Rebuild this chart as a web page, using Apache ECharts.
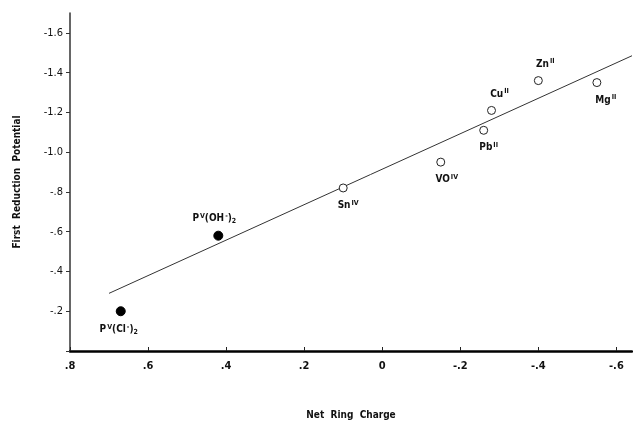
<!DOCTYPE html>
<html>
<head>
<meta charset="utf-8">
<script src="https://cdn.jsdelivr.net/npm/echarts@6/dist/echarts.min.js"></script>
<style>
  html, body { margin: 0; padding: 0; background: #fff; }
  #chart { width: 633px; height: 424px; }
</style>
</head>
<body>
<div id="chart"></div>
<script>
// complexes
const complexes = ['PCl', 'POH', 'Sn', 'VO', 'Pb', 'Cu', 'Zn', 'Mg']
const filled = [true, true, false, false, false, false, false, false]
const ringCharge = [0.67, 0.42, 0.10, -0.15, -0.26, -0.28, -0.40, -0.55]
const reductionPotential = [-0.20, -0.58, -0.82, -0.95, -1.11, -1.21, -1.36, -1.35]

// fitted line ends
const fitCharge = [0.70, -0.64]
const fitPotential = [-0.29, -1.485]

const xTicks = [0.8, 0.6, 0.4, 0.2, 0, -0.2, -0.4, -0.6]
const yTicks = [-0.2, -0.4, -0.6, -0.8, -1.0, -1.2, -1.4, -1.6]

const labelText = {
  PCl: 'P{sup|V}(Cl{sup|-}){sub|2}',
  POH: 'P{sup|V}(OH{sup|-}){sub|2}',
  Sn: 'Sn{sup|IV}',
  VO: 'VO{sup|IV}',
  Pb: 'Pb{sup|II}',
  Cu: 'Cu{sup|II}',
  Zn: 'Zn{sup|II}',
  Mg: 'Mg{sup|II}',
}
const labelPlace = {
  PCl: ['bottom', [-2, 2]],
  POH: ['top', [-4, -1]],
  Sn: ['bottom', [5, 2]],
  VO: ['bottom', [6, 2]],
  Pb: ['bottom', [5, 2]],
  Cu: ['top', [8, -1]],
  Zn: ['top', [7, -1]],
  Mg: ['bottom', [9, 2]],
}

const font = "'DejaVu Sans Condensed', 'DejaVu Sans', sans-serif"

// axes are drawn negated so the tick interval counts from a round min
function fmtNum(v) {
  const a = Math.abs(v)
  if (a < 1e-9) return '0'
  let s = a.toFixed(1)
  if (a < 1) s = s.slice(1)
  return (v < 0 ? '-' : '') + s
}

const rich = {
  sup: { fontSize: 7, fontFamily: font, fontWeight: 'bold', color: '#111', verticalAlign: 'top', padding: [0, 0, 5, 1] },
  sub: { fontSize: 7, fontFamily: font, fontWeight: 'bold', color: '#111', verticalAlign: 'bottom', padding: [5, 0, 0, 0] },
}

const points = complexes.map((c, i) => ({
  value: [-ringCharge[i], -reductionPotential[i]],
  symbol: 'circle',
  symbolSize: filled[i] ? 9 : 8,
  itemStyle: filled[i]
    ? { color: '#000', borderColor: '#000', borderWidth: 1, opacity: 1 }
    : { color: '#fff', borderColor: '#222', borderWidth: 1, opacity: 1 },
  label: {
    show: true,
    formatter: labelText[c],
    position: labelPlace[c][0],
    offset: labelPlace[c][1],
    fontFamily: font,
    fontWeight: 'bold',
    fontSize: 10,
    color: '#111',
    rich: rich,
  },
}))

const chart = echarts.init(document.getElementById('chart'))
chart.setOption({
  animation: false,
  grid: { left: 70, right: 1, top: 13, bottom: 73, containLabel: false, outerBoundsMode: 'none' },
  xAxis: {
    type: 'value',
    min: -0.8,
    max: 0.64,
    interval: 0.2,
    name: 'Net  Ring  Charge',
    nameLocation: 'middle',
    nameGap: 59,
    nameTextStyle: { fontFamily: font, fontWeight: 'bold', fontSize: 10, color: '#111' },
    axisLine: { onZero: false, lineStyle: { color: '#000', width: 2.5 } },
    axisTick: { inside: true, length: 4, lineStyle: { color: '#222' } },
    splitLine: { show: false },
    axisLabel: {
      margin: 10,
      fontFamily: font,
      fontWeight: 'bold',
      fontSize: 11,
      color: '#111',
      showMaxLabel: false,
      formatter: v => {
        const real = -v
        return xTicks.some(t => Math.abs(t - real) < 1e-6) ? fmtNum(real) : ''
      },
    },
  },
  yAxis: {
    type: 'value',
    min: 0,
    max: 1.7,
    interval: 0.2,
    name: 'First  Reduction  Potential',
    nameLocation: 'middle',
    nameGap: 48,
    nameTextStyle: { fontFamily: font, fontWeight: 'bold', fontSize: 10, color: '#111' },
    axisLine: { onZero: false, lineStyle: { color: '#333', width: 1.5 } },
    axisTick: { length: 4, lineStyle: { color: '#333' } },
    splitLine: { show: false },
    axisLabel: {
      margin: 7,
      fontFamily: font,
      fontSize: 11,
      color: '#111',
      showMaxLabel: false,
      formatter: v => {
        const real = -v
        return yTicks.some(t => Math.abs(t - real) < 1e-6) ? fmtNum(real) : ''
      },
    },
  },
  series: [
    {
      type: 'line',
      data: fitCharge.map((c, i) => [-c, -fitPotential[i]]),
      showSymbol: false,
      lineStyle: { color: '#333', width: 1 },
      z: 1,
    },
    {
      type: 'scatter',
      data: points,
      z: 3,
    },
  ],
})
</script>
</body>
</html>
